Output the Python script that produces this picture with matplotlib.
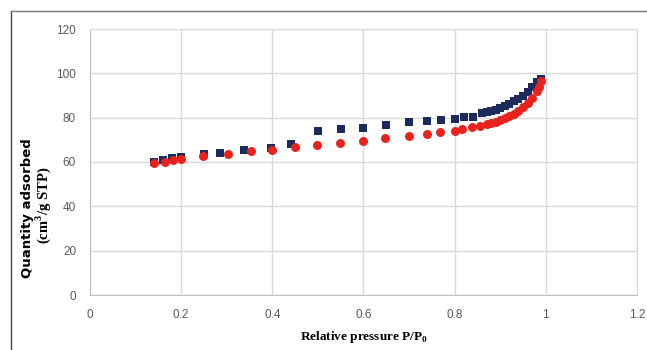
"""
Nitrogen adsorption isotherm: quantity adsorbed vs relative pressure.
Saves out.png (647x350).
"""

import matplotlib
matplotlib.use("Agg")
import matplotlib.pyplot as plt
from matplotlib.lines import Line2D

# ------------------------------------------------------------------
# Data
# ------------------------------------------------------------------

sq_p = [0.14, 0.16, 0.18, 0.20, 0.25, 0.285, 0.338, 0.397, 0.442, 0.50,
        0.551, 0.60, 0.649, 0.70, 0.74, 0.77, 0.80, 0.82, 0.84, 0.86,
        0.87, 0.88, 0.89, 0.90, 0.91, 0.92, 0.93, 0.94, 0.95, 0.96,
        0.97, 0.98, 0.99]
sq_q = [59.8, 61.0, 61.8, 62.3, 63.6, 64.0, 65.2, 66.3, 68.0, 73.8,
        74.7, 75.4, 76.6, 77.9, 78.4, 78.8, 79.3, 80.2, 80.5, 82.0,
        82.4, 83.0, 83.6, 84.4, 85.2, 86.2, 87.3, 88.5, 90.0, 91.8,
        93.8, 96.0, 97.5]

ci_p = [0.14, 0.164, 0.182, 0.20, 0.248, 0.302, 0.354, 0.40, 0.45, 0.497,
        0.548, 0.598, 0.648, 0.699, 0.74, 0.767, 0.80, 0.817, 0.839, 0.855,
        0.87, 0.88, 0.89, 0.90, 0.91, 0.92, 0.93, 0.94, 0.95, 0.96,
        0.97, 0.98, 0.985, 0.99]
ci_q = [59.4, 60.2, 61.0, 61.3, 62.8, 63.8, 65.0, 65.3, 66.6, 67.7,
        68.4, 69.5, 70.7, 71.8, 72.8, 73.4, 74.1, 75.0, 75.6, 76.4,
        77.0, 77.6, 78.2, 79.0, 79.7, 80.6, 81.7, 83.0, 84.6, 86.6,
        89.0, 92.0, 94.0, 96.5]

x_ticks = [0, 0.2, 0.4, 0.6, 0.8, 1, 1.2]
x_tick_labels = ["0", "0.2", "0.4", "0.6", "0.8", "1", "1.2"]
y_ticks = [0, 20, 40, 60, 80, 100, 120]

navy = "#1C2A5C"
red = "#E8231E"
grid_col = "#D9D9D9"
tick_col = "#595959"

# ------------------------------------------------------------------
# Figure
# ------------------------------------------------------------------

fig = plt.figure(figsize=(6.47, 3.5), dpi=100)
ax = fig.add_axes([90 / 647, 1 - 295 / 350, (637 - 90) / 647, (295 - 29) / 350])

ax.scatter(sq_p, sq_q, marker="s", s=38, color=navy, zorder=3, linewidths=0)
ax.scatter(ci_p, ci_q, marker="o", s=42, color=red, zorder=4, linewidths=0)

ax.set_xlim(0, 1.2)
ax.set_ylim(0, 120)
ax.set_xticks(x_ticks)
ax.set_xticklabels(x_tick_labels)
ax.set_yticks(y_ticks)
ax.tick_params(length=0, labelsize=8.5, labelcolor=tick_col)
ax.tick_params(axis="x", pad=10)
ax.tick_params(axis="y", pad=10)
for lab in ax.get_xticklabels() + ax.get_yticklabels():
    lab.set_family("Liberation Sans")

ax.grid(True, color=grid_col, linewidth=1)
ax.set_axisbelow(True)
for side in ["top", "right"]:
    ax.spines[side].set_color(grid_col)
for side in ["left", "bottom"]:
    ax.spines[side].set_color("#BFBFBF")

ax.set_xlabel("Relative pressure P/P$_\\mathregular{0}$", fontsize=9.5,
              fontweight="bold", family="Liberation Serif", labelpad=6)

fig.text(27 / 647, 1 - 208 / 350, "Quantity adsorbed", rotation=90,
         ha="center", va="center", fontsize=9.5, fontweight="bold",
         family="DejaVu Sans")
fig.text(43 / 647, 1 - 205 / 350, "(cm$^\\mathregular{3}$/g STP)", rotation=90,
         ha="center", va="center", fontsize=10.5, fontweight="bold",
         family="Liberation Serif")

# outer frame (only left and top edges are visible in the source)
fig.add_artist(Line2D([11 / 647, 11 / 647], [0, 1 - 11 / 350],
                      transform=fig.transFigure, color="#444444", linewidth=1))
fig.add_artist(Line2D([11 / 647, 646 / 647], [1 - 11 / 350, 1 - 11 / 350],
                      transform=fig.transFigure, color="#777777", linewidth=1))

fig.savefig("out.png", dpi=100)
